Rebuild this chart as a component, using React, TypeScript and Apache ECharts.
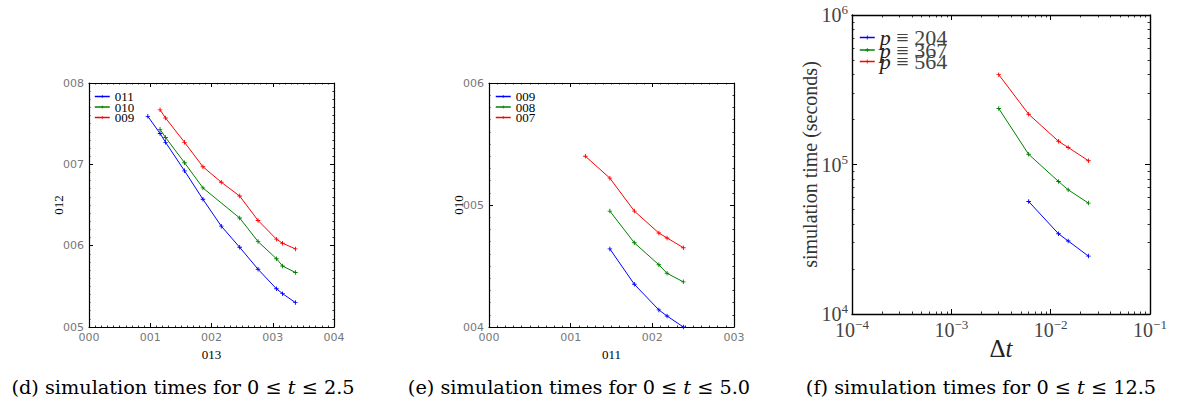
import React, { useEffect, useRef } from "react";
import * as echarts from "echarts";

// ---- panel (d): simulation times, 0 <= t <= 2.5 ----
const dX011 = [0.96, 1.16, 1.25, 1.56, 1.86, 2.16, 2.46, 2.76, 3.06, 3.16, 3.37];
const dY011 = [7.59, 7.38, 7.27, 6.92, 6.57, 6.24, 5.98, 5.71, 5.47, 5.41, 5.3];
const dX010 = [1.16, 1.25, 1.56, 1.86, 2.46, 2.76, 3.06, 3.16, 3.37];
const dY010 = [7.43, 7.33, 7.02, 6.71, 6.34, 6.05, 5.84, 5.75, 5.67];
const dX009 = [1.16, 1.25, 1.56, 1.86, 2.16, 2.46, 2.76, 3.06, 3.16, 3.37];
const dY009 = [7.67, 7.57, 7.27, 6.97, 6.78, 6.61, 6.31, 6.08, 6.03, 5.96];

// ---- panel (e): simulation times, 0 <= t <= 5.0 ----
const eX009 = [1.48, 1.78, 2.08, 2.18, 2.38];
const eY009 = [4.64, 4.35, 4.14, 4.09, 4.0];
const eX008 = [1.48, 1.78, 2.08, 2.18, 2.38];
const eY008 = [4.95, 4.69, 4.51, 4.44, 4.37];
const eX007 = [1.18, 1.48, 1.78, 2.08, 2.18, 2.38];
const eY007 = [5.4, 5.22, 4.95, 4.77, 4.73, 4.65];

// ---- panel (f): simulation times, 0 <= t <= 12.5 (log-log) ----
const fX204 = [0.006, 0.012, 0.015, 0.024];
const fY204 = [56600, 34400, 30800, 24400];
const fX367 = [0.003, 0.006, 0.012, 0.015, 0.024];
const fY367 = [237000, 117000, 77000, 67700, 55200];
const fX564 = [0.003, 0.006, 0.012, 0.015, 0.024];
const fY564 = [399000, 217000, 143000, 130000, 106000];

const captionD = ["(d) simulation times for 0 ≤ ", "t", " ≤ 2.5"];
const captionE = ["(e) simulation times for 0 ≤ ", "t", " ≤ 5.0"];
const captionF = ["(f) simulation times for 0 ≤ ", "t", " ≤ 12.5"];

const SERIF = '"Liberation Serif", "DejaVu Serif", serif';
const WIDE_SERIF = '"DejaVu Serif", "Liberation Serif", serif';
const SANS = '"DejaVu Sans", "Liberation Sans", sans-serif';
const BLUE = "#0000ff";
const GREEN = "#008000";
const RED = "#ff0000";
const PLUS = "path://M4,0H6V4H10V6H6V10H4V6H0V4H4Z";

const zip = (xs: number[], ys: number[]) => xs.map((x, i) => [x, ys[i]]);

const lineSeries = (name: string, xs: number[], ys: number[], color: string) => ({
  type: "line",
  name,
  data: zip(xs, ys),
  symbol: PLUS,
  symbolSize: 4.5,
  showSymbol: true,
  lineStyle: { color, width: 1 },
  itemStyle: { color },
  xAxisIndex: 0,
  yAxisIndex: 0,
});

const caption = (parts: string[], cx: number) => ({
  type: "text",
  x: cx,
  y: 387,
  style: {
    text: `{r|${parts[0]}}{i|${parts[1]}}{r|${parts[2]}}`,
    fill: "#000",
    align: "center",
    verticalAlign: "middle",
    rich: {
      r: { fontFamily: WIDE_SERIF, fontSize: 19.3, fill: "#000" },
      i: { fontFamily: WIDE_SERIF, fontSize: 19.3, fontStyle: "italic", fill: "#000" },
    },
  },
});

const code3 = (v: number) => String(Math.round(v)).padStart(3, "0");

function linearAxis(
  dim: "x" | "y",
  min: number,
  max: number,
  withLabels: boolean,
  name: string,
  nameGap: number
) {
  const position = dim === "x" ? (withLabels ? "bottom" : "top") : withLabels ? "left" : "right";
  return {
    type: "value",
    min,
    max,
    interval: 1,
    position,
    gridIndex: 0,
    axisLine: { show: true, onZero: false, lineStyle: { color: "#000", width: 1.2 } },
    axisTick: { show: true, inside: true, length: 4, lineStyle: { color: "#000", width: 1 } },
    minorTick: { show: true, splitNumber: 10, length: 1.5, lineStyle: { color: "#000", width: 0.8 } },
    splitLine: { show: false },
    minorSplitLine: { show: false },
    axisLabel: {
      show: withLabels,
      formatter: code3,
      fontFamily: SANS,
      fontSize: 11,
      color: "#777",
      margin: 5,
      showMinLabel: true,
      showMaxLabel: true,
    },
    name: withLabels ? name : "",
    nameLocation: "middle",
    nameGap,
    nameMoveOverlap: false,
    nameTextStyle: { fontFamily: SERIF, fontSize: 13, color: "#000" },
  };
}

// one legend block per entry so the rows sit close together
const stackedLegend = (
  names: string[],
  left: number,
  centers: number[],
  itemWidth: number,
  itemHeight: number,
  textStyle: any,
  formatter?: (n: string) => string
) =>
  names.map((n, i) => ({
    show: true,
    orient: "vertical",
    left,
    top: centers[i] - itemHeight / 2,
    itemWidth,
    itemHeight,
    padding: 0,
    data: [n],
    lineStyle: { width: 1.5 },
    textStyle,
    ...(formatter ? { formatter } : {}),
  }));

const smallLegendText = { fontFamily: SERIF, fontSize: 13, color: "#000" };

const optD = {
  animation: false,
  backgroundColor: "#fff",
  grid: { left: 89, top: 83, width: 245, height: 244 },
  xAxis: [linearAxis("x", 0, 4, true, "013", 21), linearAxis("x", 0, 4, false, "", 0)],
  yAxis: [linearAxis("y", 5, 8, true, "012", 24), linearAxis("y", 5, 8, false, "", 0)],
  legend: stackedLegend(["011", "010", "009"], 94, [92, 102.5, 113], 15, 4, smallLegendText),
  series: [
    lineSeries("011", dX011, dY011, BLUE),
    lineSeries("010", dX010, dY010, GREEN),
    lineSeries("009", dX009, dY009, RED),
  ],
  graphic: [caption(captionD, 183)],
};

const optE = {
  animation: false,
  backgroundColor: "#fff",
  grid: { left: 89, top: 83, width: 245, height: 244 },
  xAxis: [linearAxis("x", 0, 3, true, "011", 21), linearAxis("x", 0, 3, false, "", 0)],
  yAxis: [linearAxis("y", 4, 6, true, "010", 24), linearAxis("y", 4, 6, false, "", 0)],
  legend: stackedLegend(["009", "008", "007"], 95, [92, 102.5, 113], 15, 4, smallLegendText),
  series: [
    lineSeries("009", eX009, eY009, BLUE),
    lineSeries("008", eX008, eY008, GREEN),
    lineSeries("007", eX007, eY007, RED),
  ],
  graphic: [caption(captionE, 179)],
};

// minor tick positions (in decades) for the log-log panel
const minorDecades = (from: number, to: number) => {
  const out: number[] = [];
  for (let e = from; e < to; e++) for (let k = 2; k <= 9; k++) out.push(Math.log10(k * Math.pow(10, e)));
  return out;
};

const powerLabel = (v: number) => {
  const e = Math.round(Math.log10(v));
  return `{b|10}{s|${e < 0 ? "\u2212" + -e : e}}`;
};

const powerRich = {
  b: { fontFamily: SERIF, fontSize: 20, color: "#444", lineHeight: 24 },
  s: { fontFamily: SERIF, fontSize: 13, color: "#444", verticalAlign: "top", lineHeight: 24, padding: [0, 0, 10, 0] },
};

function logAxis(dim: "x" | "y", min: number, max: number, withLabels: boolean, name: string, nameGap: number, nameStyle: any) {
  const position = dim === "x" ? (withLabels ? "bottom" : "top") : withLabels ? "left" : "right";
  return {
    type: "log",
    logBase: 10,
    min,
    max,
    position,
    gridIndex: 0,
    axisLine: { show: true, onZero: false, lineStyle: { color: "#000", width: 1.4 } },
    axisTick: { show: true, inside: true, length: 5, lineStyle: { color: "#000", width: 1 } },
    splitLine: { show: false },
    axisLabel: {
      show: withLabels,
      formatter: powerLabel,
      rich: powerRich,
      margin: 4,
      showMinLabel: true,
      showMaxLabel: true,
    },
    name: withLabels ? name : "",
    nameLocation: "middle",
    nameGap,
    nameMoveOverlap: false,
    nameTextStyle: nameStyle,
  };
}

function minorAxis(dim: "x" | "y", from: number, to: number, top: boolean) {
  const position = dim === "x" ? (top ? "top" : "bottom") : top ? "right" : "left";
  return {
    type: "value",
    min: from,
    max: to,
    interval: 1,
    position,
    gridIndex: 0,
    axisLine: { show: false },
    axisTick: {
      show: true,
      inside: true,
      length: 2.5,
      customValues: minorDecades(from, to),
      lineStyle: { color: "#000", width: 0.8 },
    },
    axisLabel: { show: false },
    splitLine: { show: false },
  };
}

const optF = {
  animation: false,
  backgroundColor: "#fff",
  grid: { left: 72, top: 15, width: 298, height: 299 },
  xAxis: [
    logAxis("x", 1e-4, 1e-1, true, "{d|Δ}{t|t}", 22, {
      rich: {
        d: { fontFamily: SERIF, fontSize: 25, color: "#222" },
        t: { fontFamily: SERIF, fontSize: 25, fontStyle: "italic", color: "#222" },
      },
    }),
    logAxis("x", 1e-4, 1e-1, false, "", 0, {}),
    minorAxis("x", -4, -1, false),
    minorAxis("x", -4, -1, true),
  ],
  yAxis: [
    logAxis("y", 1e4, 1e6, true, "simulation time (seconds)", 32, {
      fontFamily: SERIF,
      fontSize: 20,
      color: "#333",
    }),
    logAxis("y", 1e4, 1e6, false, "", 0, {}),
    minorAxis("y", 4, 6, false),
    minorAxis("y", 4, 6, true),
  ],
  legend: stackedLegend(
    ["p ≡ 204", "p ≡ 367", "p ≡ 564"],
    79,
    [29, 41.5, 53],
    15,
    5,
    {
      rich: {
        i: { fontFamily: SERIF, fontSize: 22, fontStyle: "italic", color: "#222" },
        r: { fontFamily: SERIF, fontSize: 22, color: "#444" },
      },
    },
    (n: string) => `{i|p}{r|${n.slice(1)}}`
  ),
  series: [
    lineSeries("p ≡ 204", fX204, fY204, BLUE),
    lineSeries("p ≡ 367", fX367, fY367, GREEN),
    lineSeries("p ≡ 564", fX564, fY564, RED),
  ],
  graphic: [caption(captionF, 201)],
};

function Panel({ option, left, width }: { option: any; left: number; width: number }) {
  const ref = useRef<HTMLDivElement>(null);
  useEffect(() => {
    const chart = echarts.init(ref.current!, null, { renderer: "svg" });
    chart.setOption(option);
    return () => chart.dispose();
  }, [option]);
  return <div ref={ref} style={{ position: "absolute", left, top: 0, width, height: 406 }} />;
}

export default function App() {
  return (
    <div style={{ position: "fixed", left: 0, top: 0, width: 1178, height: 406, background: "#fff", overflow: "hidden" }}>
      <Panel option={optD} left={0} width={400} />
      <Panel option={optE} left={400} width={380} />
      <Panel option={optF} left={780} width={398} />
    </div>
  );
}
